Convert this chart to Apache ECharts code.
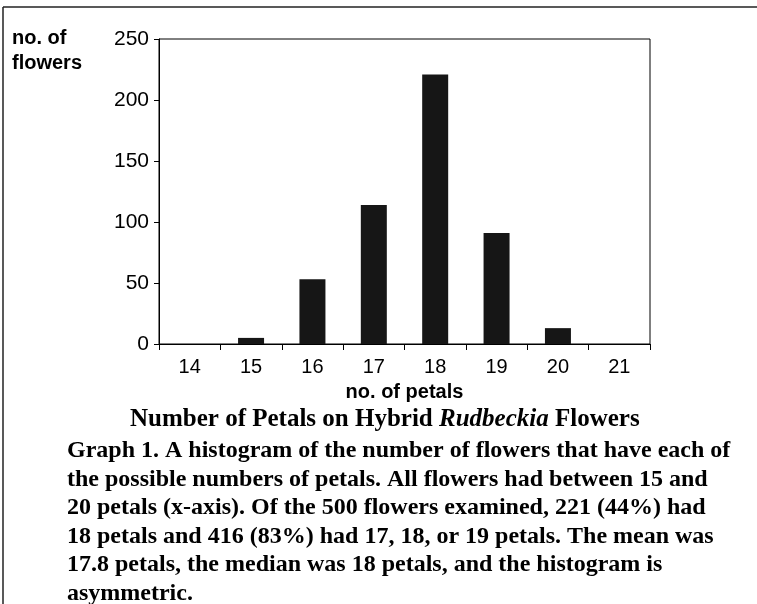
<!DOCTYPE html>
<html>
<head>
<meta charset="utf-8">
<script src="https://cdn.jsdelivr.net/npm/echarts@6/dist/echarts.min.js"></script>
<style>
  html, body { margin: 0; padding: 0; background: #fff; }
  #chart { width: 757px; height: 604px; }
</style>
</head>
<body>
<div id="chart"></div>
<script>
// number of petals (categories) and how many flowers had each
const petals = ['14', '15', '16', '17', '18', '19', '20', '21'];
const flowers = [0, 5, 53, 114, 221, 91, 13, 0];
const yTicks = [0, 50, 100, 150, 200, 250];

const captionLines = [
  'Graph 1. A histogram of the number of flowers that have each of',
  'the possible numbers of petals. All flowers had between 15 and',
  '20 petals (x-axis). Of the 500 flowers examined, 221 (44%) had',
  '18 petals and 416 (83%) had 17, 18, or 19 petals. The mean was',
  '17.8 petals, the median was 18 petals, and the histogram is',
  'asymmetric.'
];

const myChart = echarts.init(document.getElementById('chart'));
const sans = 'Liberation Sans, Arial, sans-serif';
const serif = 'Liberation Serif, Times New Roman, serif';

const option = {
  backgroundColor: '#fff',
  animation: false,
  grid: {
    left: 159,
    right: 107,
    top: 39,
    bottom: 260,
    show: true,
    borderColor: '#000',
    borderWidth: 1
  },
  xAxis: {
    type: 'category',
    data: petals,
    axisLine: { lineStyle: { color: '#000', width: 1 } },
    axisTick: { show: true, length: 6, lineStyle: { color: '#000' } },
    axisLabel: { color: '#000', fontFamily: sans, fontSize: 20, margin: 13 },
    name: 'no. of petals',
    nameLocation: 'middle',
    nameGap: 38,
    nameTextStyle: { color: '#000', fontFamily: sans, fontSize: 20, fontWeight: 'bold' }
  },
  yAxis: {
    type: 'value',
    min: yTicks[0],
    max: yTicks[yTicks.length - 1],
    interval: 50,
    splitLine: { show: false },
    axisLine: { show: true, lineStyle: { color: '#000', width: 1 } },
    axisTick: { show: true, length: 5, lineStyle: { color: '#000' } },
    axisLabel: { color: '#000', fontFamily: sans, fontSize: 21, margin: 10 }
  },
  series: [
    {
      type: 'bar',
      data: flowers,
      barWidth: 26,
      itemStyle: { color: '#161616' }
    }
  ],
  graphic: [
    // outer frame (top and left edges)
    { type: 'line', shape: { x1: 3, y1: 7, x2: 757, y2: 7 }, style: { stroke: '#222', lineWidth: 1.5 } },
    { type: 'line', shape: { x1: 3, y1: 7, x2: 3, y2: 604 }, style: { stroke: '#222', lineWidth: 1.5 } },
    {
      type: 'text', left: 12, top: 26,
      style: {
        text: 'no. of\nflowers', fill: '#000',
        font: 'bold 20px ' + sans, lineHeight: 25
      }
    },
    {
      type: 'text', left: 130, top: 407,
      style: {
        text: '{n|Number of Petals on Hybrid }{i|Rudbeckia}{n| Flowers}',
        rich: {
          n: { font: 'bold 25px ' + serif, fill: '#000' },
          i: { font: 'italic bold 25px ' + serif, fill: '#000' }
        }
      }
    },
    {
      type: 'text', left: 67, top: 437,
      style: {
        text: captionLines.join('\n'), fill: '#000',
        font: 'bold 24px ' + serif, lineHeight: 28.5
      }
    }
  ]
};

myChart.setOption(option);
</script>
</body>
</html>
